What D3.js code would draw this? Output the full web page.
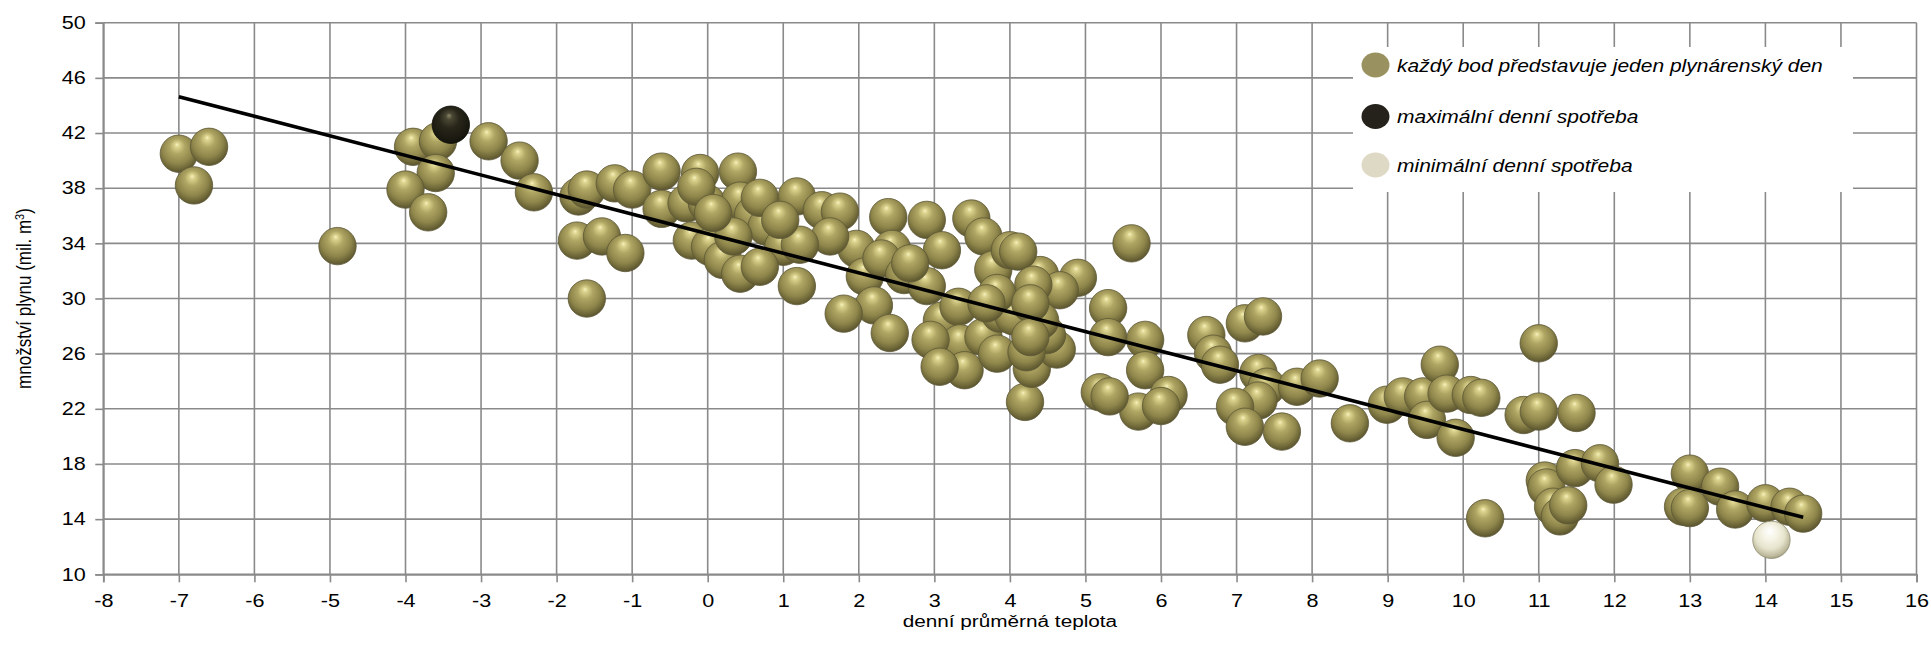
<!DOCTYPE html>
<html>
<head>
<meta charset="utf-8">
<script src="https://cdn.jsdelivr.net/npm/d3@7"></script>
<style>
  html, body { margin: 0; padding: 0; background: #ffffff; }
  svg { display: block; font-family: "Liberation Sans", Arial, sans-serif; }
</style>
</head>
<body>
<svg id="chart" width="1931" height="645"></svg>
<script>
// ---- data ----
const temperature = [
  -7.0, -6.6, -6.8, -4.9, -3.9, -3.57, -3.6, -4.0, -3.7, -2.9, -2.49, -2.3,
  -1.71, -1.6, -1.73, -1.4, -1.6, -1.23, -1.0, -1.09, -0.61, -0.1, 0.4, -0.61,
  -0.28, -0.01, -0.15, -0.21, 0.03, 0.2, 0.43, 0.43, 0.6, 0.78, 0.69, 1.0,
  0.69, 1.18, 1.18, 0.34, 0.07, 1.51, 1.75, 2.39, 2.9, 3.49, 3.65, 3.1,
  2.44, 1.97, 1.62, 1.22, 2.08, 2.3, 2.6, 2.9, 2.2, 1.8, 2.41, 3.1,
  3.32, 3.34, 2.95, 3.65, 3.4, 3.07, 3.83, 3.78, 4.0, 3.87, 4.2, 5.61,
  4.9, 4.4, 4.11, 4.66, 5.3, 5.3, 5.79, 5.79, 6.1, 5.7, 5.19, 5.32,
  4.29, 4.62, 4.49, 4.22, 4.4, 4.05, 4.31, 3.83, 6.6, 6.69, 6.78, 7.11,
  7.35, 7.29, 7.4, 7.29, 6.98, 7.11, 7.6, 7.8, 8.1, 8.5, 8.99, 9.2,
  9.47, 9.52, 9.69, 9.78, 9.9, 10.1, 10.24, 11.0, 10.8, 11.0, 11.5, 10.29,
  11.08, 11.1, 11.48, 11.81, 11.99, 11.19, 11.28, 11.39, 13.0, 12.91, 13.0, 13.4,
  13.6, 14.0, 14.32, 14.5, 6.0, 4.27, 4.27, 3.69, 0.96, 2.68
];
const gasVolume = [
  40.5, 41.0, 38.2, 33.8, 41.0, 41.4, 39.1, 37.9, 36.25, 41.4, 40.0, 37.7,
  37.4, 37.9, 34.2, 34.5, 30.0, 38.35, 37.9, 33.3, 39.2, 39.1, 39.2, 36.5,
  36.9, 36.9, 38.1, 34.2, 33.75, 32.8, 31.8, 37.1, 36.05, 35.2, 37.3, 33.75,
  32.3, 37.4, 30.9, 34.5, 36.2, 36.4, 36.3, 35.9, 35.7, 35.8, 34.5, 33.5,
  33.6, 33.6, 34.5, 33.9, 31.6, 32.9, 31.7, 30.9, 29.5, 28.9, 27.5, 28.4,
  29.4, 26.75, 27.0, 27.2, 24.8, 25.05, 26.0, 32.1, 33.5, 28.9, 22.5, 34.0,
  31.5, 31.7, 33.4, 30.6, 29.3, 27.2, 27.0, 24.8, 23.0, 21.8, 23.2, 22.9,
  24.9, 26.3, 27.35, 26.1, 28.4, 28.7, 31.0, 30.4, 27.35, 26.0, 25.2, 28.2,
  28.7, 24.6, 23.6, 22.6, 22.15, 20.7, 20.35, 23.6, 24.2, 20.95, 22.3, 22.9,
  22.9, 21.2, 25.2, 23.1, 19.9, 23.0, 22.8, 26.75, 21.55, 21.8, 21.7, 14.06,
  16.8, 16.3, 17.7, 18.05, 16.5, 14.9, 14.2, 15.0, 17.3, 14.9, 14.8, 16.35,
  14.7, 15.15, 14.9, 14.4, 22.2, 29.65, 27.2, 29.65, 35.7, 32.55
];
const maxDay = { t: -3.40, v: 42.6 };
const minDay = { t: 14.08, v: 12.5 };
const trendT = [-7.0, 14.5];
const trendV = [44.63, 14.13];

const xTicks = d3.range(-8, 17, 1);
const yTicks = [10, 14, 18, 22, 26, 30, 34, 38, 42, 46, 50];
const xTitle = "denní průměrná teplota";
const yTitle = "množství plynu (mil. m";
const legendLabels = [
  "každý bod představuje jeden plynárenský den",
  "maximální denní spotřeba",
  "minimální denní spotřeba"
];

(function draw() {
  const svg = d3.select("#chart");
  const pL = 103.3, pR = 1916.5, pT = 22.7, pB = 574.3;
  const x = d3.scaleLinear().domain([-8, 16]).range([pL, pR]);
  const y = d3.scaleLinear().domain([10, 50]).range([pB, pT]);
  const gridColor = "#8a8a8a";
  const SX = 1.2;          // horizontal stretch of the lettering
  const FS = 18;

  const defs = svg.append("defs");
  function sphereGrad(id, stops) {
    const g = defs.append("radialGradient").attr("id", id)
      .attr("cx", "0.47").attr("cy", "0.42").attr("r", "0.6")
      .attr("fx", "0.45").attr("fy", "0.25");
    stops.forEach(s => g.append("stop").attr("offset", s[0]).attr("stop-color", s[1]));
  }
  sphereGrad("gOlive", [[0, "#f8f2c2"], [0.1, "#dcd48f"], [0.35, "#aea462"], [0.68, "#8e854b"], [0.88, "#6b6436"], [1, "#565030"]]);
  sphereGrad("gDark", [[0, "#8a866a"], [0.15, "#4a4733"], [0.45, "#28261a"], [0.85, "#1a1910"], [1, "#10100a"]]);
  sphereGrad("gLight", [[0, "#ffffff"], [0.3, "#f7f5e8"], [0.65, "#e6e3cc"], [0.9, "#bcb89c"], [1, "#9a9678"]]);

  const grid = svg.append("g");
  grid.selectAll("line.v").data(xTicks).join("line").attr("class", "v")
    .attr("x1", d => x(d)).attr("x2", d => x(d))
    .attr("y1", pT).attr("y2", pB)
    .attr("stroke", gridColor).attr("stroke-width", 1.6);
  grid.selectAll("line.h").data(yTicks).join("line").attr("class", "h")
    .attr("x1", pL).attr("x2", pR)
    .attr("y1", d => y(d)).attr("y2", d => y(d))
    .attr("stroke", gridColor).attr("stroke-width", 1.6);

  const xAxis = svg.append("g").attr("transform", `translate(0,${pB})`)
    .call(d3.axisBottom(x).tickValues(xTicks).tickSize(8).tickPadding(12).tickFormat(d3.format("d")));
  const yAxis = svg.append("g").attr("transform", `translate(${pL},0)`)
    .call(d3.axisLeft(y).tickValues(yTicks).tickSize(8).tickPadding(9).tickFormat(d3.format("d")));
  [xAxis, yAxis].forEach(a => {
    a.select(".domain").attr("stroke", gridColor).attr("stroke-width", 1.8);
    a.selectAll(".tick line").attr("stroke", gridColor).attr("stroke-width", 1.6);
    a.selectAll(".tick text").attr("fill", "#000").style("font-size", FS + "px")
      .style("font-family", "'Liberation Sans', Arial, sans-serif");
  });
  xAxis.selectAll(".tick text").text(d => d < 0 ? "-" + Math.abs(d) : d)
    .attr("transform", `scale(${SX},1)`);
  yAxis.selectAll(".tick text").attr("x", -17.5 / SX).attr("transform", `scale(${SX},1)`);

  svg.append("text")
    .attr("transform", `translate(${(pL + pR) / 2},627) scale(${SX},1)`)
    .attr("text-anchor", "middle").style("font-size", "17.3px").text(xTitle);
  const yt = svg.append("text")
    .attr("transform", `translate(31,${(pT + pB) / 2}) scale(${SX},1) rotate(-90)`)
    .attr("text-anchor", "middle").style("font-size", "17px");
  yt.append("tspan").text(yTitle);
  yt.append("tspan").attr("dy", -6).style("font-size", "11px").text("3");
  yt.append("tspan").attr("dy", 6).text(")");

  const pts = temperature.map((t, i) => ({ t, v: gasVolume[i] }));
  const R = 18.7;
  svg.append("g").selectAll("circle").data(pts).join("circle")
    .attr("cx", d => x(d.t)).attr("cy", d => y(d.v)).attr("r", R)
    .attr("fill", "url(#gOlive)").attr("stroke", "#5d5836").attr("stroke-width", 0.8);

  svg.append("line")
    .attr("x1", x(trendT[0])).attr("y1", y(trendV[0]))
    .attr("x2", x(trendT[1])).attr("y2", y(trendV[1]))
    .attr("stroke", "#000").attr("stroke-width", 3.6);

  svg.append("circle").attr("cx", x(maxDay.t)).attr("cy", y(maxDay.v)).attr("r", R)
    .attr("fill", "url(#gDark)").attr("stroke", "#0c0c08").attr("stroke-width", 0.8);
  svg.append("circle").attr("cx", x(minDay.t)).attr("cy", y(minDay.v)).attr("r", R)
    .attr("fill", "url(#gLight)").attr("stroke", "#8e8a6e").attr("stroke-width", 0.8);

  const lg = svg.append("g");
  lg.append("rect").attr("x", 1353).attr("y", 47).attr("width", 500).attr("height", 145).attr("fill", "#fff");
  const legendColors = ["#9a9160", "#24221a", "#ddd9c4"];
  const rowY = [65, 116.5, 165];
  legendLabels.forEach((lab, i) => {
    lg.append("ellipse").attr("cx", 1375.5).attr("cy", rowY[i]).attr("rx", 14).attr("ry", 12.5)
      .attr("fill", legendColors[i]);
    lg.append("text").attr("transform", `translate(1397,${rowY[i] + 6.5}) scale(${SX},1)`)
      .style("font-size", "17.5px").style("font-style", "italic").text(lab);
  });
})();
</script>
</body>
</html>
